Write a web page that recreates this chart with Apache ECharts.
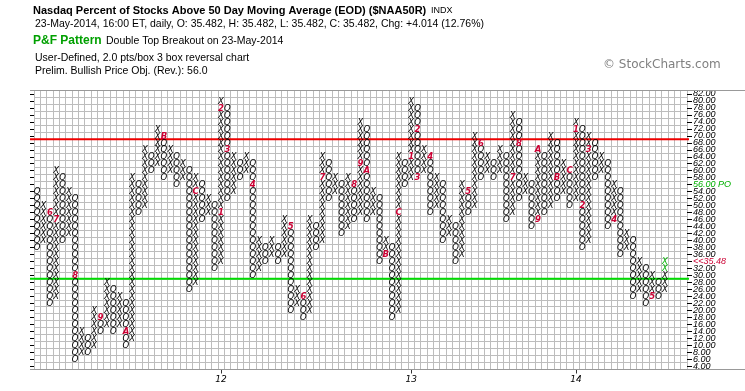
<!DOCTYPE html>
<html><head><meta charset="utf-8">
<script src="https://cdn.jsdelivr.net/npm/echarts@6/dist/echarts.min.js"></script>
<style>html,body{margin:0;padding:0;background:#fff}#c{width:745px;height:391px}</style>
</head><body><div id="c"></div>
<script>
// ---- data (2.0 pts/box, 3 box reversal) ----
const boxSize = 2;
const totalColumns = 103;
const colType = ['O','X','O','X','O','X','O','X','O','X','O','X','O','X','O','X','O','X','O','X',
  'O','X','O','X','O','X','O','X','O','X','O','X','O','X','O','X','O','X','O','X',
  'O','X','O','X','O','X','O','X','O','X','O','X','O','X','O','X','O','X','O','X',
  'O','X','O','X','O','X','O','X','O','X','O','X','O','X','O','X','O','X','O','X',
  'O','X','O','X','O','X','O','X','O','X','O','X','O','X','O','X','O','X','O','X'];
const colHigh = [54,50,48,60,58,54,52,14,12,20, 18,28,26,24,22,58,56,66,64,72,
  70,66,64,62,60,58,56,52,50,80, 78,64,62,64,62,40,38,40,38,46,
  44,26,24,46,44,64,62,58,56,58, 56,74,72,54,52,40,38,64,62,80,
  78,66,64,58,56,46,44,56,54,70, 68,64,62,66,64,76,74,58,56,66,
  64,70,68,62,60,74,72,70,68,64, 62,56,54,42,40,34,32,30,28,34];
const colLow = [38,40,22,24,40,42,6,8,8,10, 14,16,14,16,10,12,48,50,60,62,
  58,60,56,58,26,28,46,48,32,34, 52,54,58,60,30,32,34,36,34,36,
  20,22,18,20,38,40,52,54,42,44, 46,48,46,48,34,36,18,20,56,58,
  58,60,48,50,40,42,34,36,48,50, 58,60,58,60,46,48,52,54,44,46,
  48,50,52,54,50,52,38,40,58,60, 44,46,36,38,24,26,22,24,24,26];
// month markers: [column, value, label]
const monthMarks = [[2,48,'6'],[3,46,'7'],[6,30,'8'],[10,18,'9'],[14,14,'A'],[20,70,'B'],[25,54,'C'],
  [29,48,'1'],[29,78,'2'],[30,66,'3'],[34,56,'4'],[40,44,'5'],[42,24,'6'],[45,58,'7'],[50,56,'8'],
  [51,62,'9'],[52,60,'A'],[55,36,'B'],[57,48,'C'],
  [59,64,'1'],[60,72,'2'],[60,58,'3'],[62,64,'4'],[68,54,'5'],[70,68,'6'],[75,58,'7'],[76,68,'8'],
  [79,46,'9'],[79,66,'A'],[82,58,'B'],[84,60,'C'],
  [85,72,'1'],[86,50,'2'],[87,66,'3'],[91,46,'4'],[97,24,'5']];
const greenBoxes = [[99,32],[99,34]];
const yearCols = [29,59,85];
const yearNames = ['12','13','14'];
const rowLabels = ['4.00','6.00','8.00','10.00','12.00','14.00','16.00','18.00','20.00','22.00',
  '24.00','26.00','28.00','30.00','32.00','34.00','36.00','38.00','40.00','42.00',
  '44.00','46.00','48.00','50.00','52.00','54.00','56.00','58.00','60.00','62.00',
  '64.00','66.00','68.00','70.00','72.00','74.00','76.00','78.00','80.00','82.00'];
const resistanceLevel = 69;
const supportLevel = 29;
const priceObjective = 56;
const lastPrice = 35.48;
const lastPriceRow = 34;

// ---- build ----
const lowestRow = 4;
const rowOf = v => (v - lowestRow) / boxSize;
const markSet = new Set(monthMarks.map(m => m[0] + '_' + m[1]));
const greenSet = new Set(greenBoxes.map(g => g[0] + '_' + g[1]));
const cells = [];
colType.forEach((t, i) => {
  for (let v = colLow[i]; v <= colHigh[i]; v += boxSize) {
    const k = i + '_' + v;
    if (markSet.has(k)) continue;
    cells.push({x: i, y: rowOf(v), t: t, green: greenSet.has(k)});
  }
});
const categories = Array.from({length: totalColumns}, (_, i) => String(i));
const FONT = '"DejaVu Sans", sans-serif';
const SYM_FONT = 'italic 8.5px "DejaVu Sans", sans-serif';
const GRID_COLOR = '#bdbdbd';
const MARK_COLOR = '#cc0033';

const chart = echarts.init(document.getElementById('c'), null, {renderer: 'canvas', width: 745, height: 391});
const option = {
  animation: false,
  grid: {left: 34, right: 58, top: 90.5, bottom: 21.5, containLabel: false, outerBoundsMode: 'none'},
  xAxis: {
    type: 'category', data: categories, boundaryGap: true,
    axisLine: {show: true, lineStyle: {color: '#999'}},
    axisTick: {show: true, alignWithLabel: true, length: 4, interval: (i) => yearCols.includes(i), lineStyle: {color: '#333'}},
    axisLabel: {show: true, interval: (i) => yearCols.includes(i), margin: 6,
      formatter: (v, i) => { const k = yearCols.indexOf(Number(v)); return k >= 0 ? yearNames[k] : ''; },
      fontSize: 9, fontStyle: 'italic', fontFamily: FONT, color: '#000'},
    splitLine: {show: true, interval: 0, lineStyle: {color: GRID_COLOR, width: 1}}
  },
  yAxis: [
    {type: 'category', data: rowLabels, position: 'left', boundaryGap: true,
      axisLine: {show: false},
      axisTick: {show: true, alignWithLabel: true, interval: 0, length: 4, lineStyle: {color: '#000'}},
      axisLabel: {show: false},
      splitLine: {show: true, interval: 0, lineStyle: {color: GRID_COLOR, width: 1}}},
    {type: 'category', data: rowLabels, position: 'right', boundaryGap: true,
      axisLine: {show: false},
      axisTick: {show: true, alignWithLabel: true, interval: 0, length: 5, lineStyle: {color: '#000'}},
      axisLabel: {show: true, interval: 0, margin: 6, fontSize: 9, fontStyle: 'italic', fontFamily: '"Liberation Sans", sans-serif', color: '#000',
        formatter: (val) => {
          const n = parseFloat(val);
          if (n === priceObjective) return '{g|' + val + ' PO}';
          if (n === lastPriceRow) return '{r|<<' + lastPrice.toFixed(2) + '}';
          return val;
        },
        rich: {
          g: {color: '#00b000', fontSize: 9, fontStyle: 'italic', fontFamily: '"Liberation Sans", sans-serif'},
          r: {color: MARK_COLOR, fontSize: 9, fontStyle: 'italic', fontFamily: '"Liberation Sans", sans-serif'}
        }},
      splitLine: {show: false}}
  ],
  graphic: [
    {type: 'line', shape: {x1: 30, y1: 90.5, x2: 745, y2: 90.5}, style: {stroke: '#999', lineWidth: 1}, z: 1},
    {type: 'line', shape: {x1: 30, y1: 369.5, x2: 745, y2: 369.5}, style: {stroke: '#999', lineWidth: 1}, z: 1},
    {type: 'text', x: 33, y: 11, style: {text: 'Nasdaq Percent of Stocks Above 50 Day Moving Average (EOD) ($NAA50R)', font: 'bold 11px "Liberation Sans", Arial, sans-serif', fill: '#000', verticalAlign: 'middle'}},
    {type: 'text', x: 431, y: 11, style: {text: 'INDX', font: '9px "Liberation Sans", Arial, sans-serif', fill: '#000', verticalAlign: 'middle'}},
    {type: 'text', x: 35, y: 24.5, style: {text: '23-May-2014, 16:00 ET, daily, O: 35.482, H: 35.482, L: 35.482, C: 35.482, Chg: +4.014 (12.76%)', font: '10.5px "Liberation Sans", Arial, sans-serif', fill: '#000', verticalAlign: 'middle'}},
    {type: 'text', x: 33, y: 41, style: {text: 'P&F Pattern', font: 'bold 12px "Liberation Sans", Arial, sans-serif', fill: '#00a000', verticalAlign: 'middle'}},
    {type: 'text', x: 106, y: 41.5, style: {text: 'Double Top Breakout on 23-May-2014', font: '10.5px "Liberation Sans", Arial, sans-serif', fill: '#000', verticalAlign: 'middle'}},
    {type: 'text', x: 35, y: 58, style: {text: 'User-Defined, 2.0 pts/box 3 box reversal chart', font: '10.5px "Liberation Sans", Arial, sans-serif', fill: '#000', verticalAlign: 'middle'}},
    {type: 'text', x: 35, y: 71.5, style: {text: 'Prelim. Bullish Price Obj. (Rev.): 56.0', font: '10.5px "Liberation Sans", Arial, sans-serif', fill: '#000', verticalAlign: 'middle'}},
    {type: 'text', x: 603, y: 65, style: {text: '\u00a9 StockCharts.com', font: '12px "DejaVu Sans", sans-serif', fill: '#808080', verticalAlign: 'middle'}}
  ],
  series: [
    {type: 'custom', name: 'levels', xAxisIndex: 0, yAxisIndex: 0, z: 3, clip: false, silent: true,
      data: [[0, 0]],
      renderItem: (params, api) => {
        const cs = params.coordSys;
        const yAt = v => (api.coord([0, rowOf(v - 1)])[1] + api.coord([0, rowOf(v + 1)])[1]) / 2;
        const x1 = cs.x - 4, x2 = cs.x + cs.width + 2;
        const yr = yAt(resistanceLevel), yg = yAt(supportLevel);
        return {type: 'group', children: [
          {type: 'line', shape: {x1: x1, y1: yr, x2: x2, y2: yr}, style: {stroke: '#ee0000', lineWidth: 2}},
          {type: 'line', shape: {x1: x1, y1: yg, x2: x2, y2: yg}, style: {stroke: '#00dd00', lineWidth: 2}}
        ]};
      }},
    {type: 'custom', name: 'boxes', xAxisIndex: 0, yAxisIndex: 0, z: 4, silent: true,
      data: cells.map(c => [c.x, c.y]),
      renderItem: (params, api) => {
        const c = cells[params.dataIndex];
        const p = api.coord([api.value(0), api.value(1)]);
        return {type: 'text', x: p[0], y: p[1] + 0.5, style: {text: c.t, fill: c.green ? '#00b000' : '#000', font: SYM_FONT, align: 'center', verticalAlign: 'middle'}};
      }},
    {type: 'custom', name: 'months', xAxisIndex: 0, yAxisIndex: 0, z: 5, silent: true,
      data: monthMarks.map(m => [m[0], rowOf(m[1])]),
      renderItem: (params, api) => {
        const m = monthMarks[params.dataIndex];
        const p = api.coord([api.value(0), api.value(1)]);
        return {type: 'text', x: p[0], y: p[1] + 0.5, style: {text: m[2], fill: MARK_COLOR, font: 'italic bold 8.5px "DejaVu Sans", sans-serif', align: 'center', verticalAlign: 'middle'}};
      }}
  ]
};
chart.setOption(option);
</script></body></html>
